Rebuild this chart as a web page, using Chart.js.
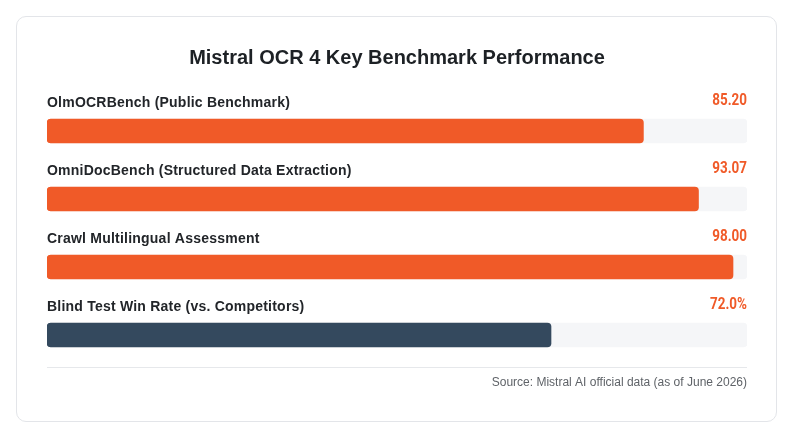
<!DOCTYPE html>
<html>
<head>
<meta charset="utf-8">
<script src="https://cdn.jsdelivr.net/npm/chart.js@4"></script>
<style>
  body { margin: 0; background: #fff; }
  .card {
    position: absolute; left: 16px; top: 16px; width: 761px; height: 406px;
    border: 1px solid #e3e5e9; border-radius: 10px; box-sizing: border-box;
  }
  #wrap { position: absolute; left: 0; top: 0; width: 794px; height: 439px; }
</style>
</head>
<body>
<div class="card"></div>
<div id="wrap"><canvas id="chart" width="794" height="439"></canvas></div>
<script>
const title = "Mistral OCR 4 Key Benchmark Performance";
const categories = [
  "OlmOCRBench (Public Benchmark)",
  "OmniDocBench (Structured Data Extraction)",
  "Crawl Multilingual Assessment",
  "Blind Test Win Rate (vs. Competitors)"
];
const scores = [85.20, 93.07, 98.00, 72.0];
const valueLabels = ["85.20", "93.07", "98.00", "72.0%"];
const trackValues = [100, 100, 100, 100];
const barColors = ["#F05A28", "#F05A28", "#F05A28", "#34495E"];
const source = "Source: Mistral AI official data (as of June 2026)";

const ORANGE = "#F05A28";

const textPlugin = {
  id: 'textPlugin',
  afterDraw(chart) {
    const ctx = chart.ctx;
    const area = chart.chartArea;
    const meta = chart.getDatasetMeta(0);
    ctx.save();
    // title
    ctx.fillStyle = "#1d2125";
    ctx.font = "bold 20px 'Liberation Sans', Arial, sans-serif";
    ctx.textAlign = "center";
    ctx.textBaseline = "middle";
    ctx.fillText(title, (area.left + area.right) / 2, 58);

    meta.data.forEach((bar, i) => {
      ctx.textBaseline = "middle";
      ctx.textAlign = "left";
      ctx.fillStyle = "#222529";
      ctx.font = "bold 14px 'Liberation Sans', Arial, sans-serif";
      ctx.letterSpacing = "0.22px";
      ctx.fillText(categories[i], area.left, bar.y - 28);
      ctx.letterSpacing = "0px";
      // value, condensed look
      ctx.save();
      ctx.translate(area.right, bar.y - 30);
      ctx.scale(0.84, 1);
      ctx.textAlign = "right";
      ctx.fillStyle = ORANGE;
      ctx.font = "bold 16px Roboto, sans-serif";
      ctx.fillText(valueLabels[i], 0, 0);
      ctx.restore();
    });

    // separator + source
    ctx.strokeStyle = "#e6e8eb";
    ctx.lineWidth = 1;
    ctx.beginPath();
    ctx.moveTo(area.left, 367.5);
    ctx.lineTo(area.right, 367.5);
    ctx.stroke();
    ctx.fillStyle = "#5f6368";
    ctx.font = "12px 'Liberation Sans', Arial, sans-serif";
    ctx.textAlign = "right";
    ctx.fillText(source, area.right, 383);
    ctx.restore();
  }
};

new Chart(document.getElementById('chart'), {
  type: 'bar',
  data: {
    labels: categories,
    datasets: [
      {
        data: scores,
        backgroundColor: barColors,
        borderRadius: 4,
        borderSkipped: false,
        barThickness: 24,
        grouped: false,
        order: 1
      },
      {
        data: trackValues,
        backgroundColor: "#F5F6F8",
        borderRadius: 4,
        borderSkipped: false,
        barThickness: 24,
        grouped: false,
        order: 2
      }
    ]
  },
  options: {
    indexAxis: 'y',
    responsive: false,
    animation: false,
    layout: { padding: { left: 47, right: 47, top: 97, bottom: 70 } },
    scales: {
      x: { display: false, min: 0, max: 100 },
      y: { display: false }
    },
    plugins: {
      legend: { display: false },
      tooltip: { enabled: false }
    }
  },
  plugins: [textPlugin]
});
</script>
</body>
</html>
